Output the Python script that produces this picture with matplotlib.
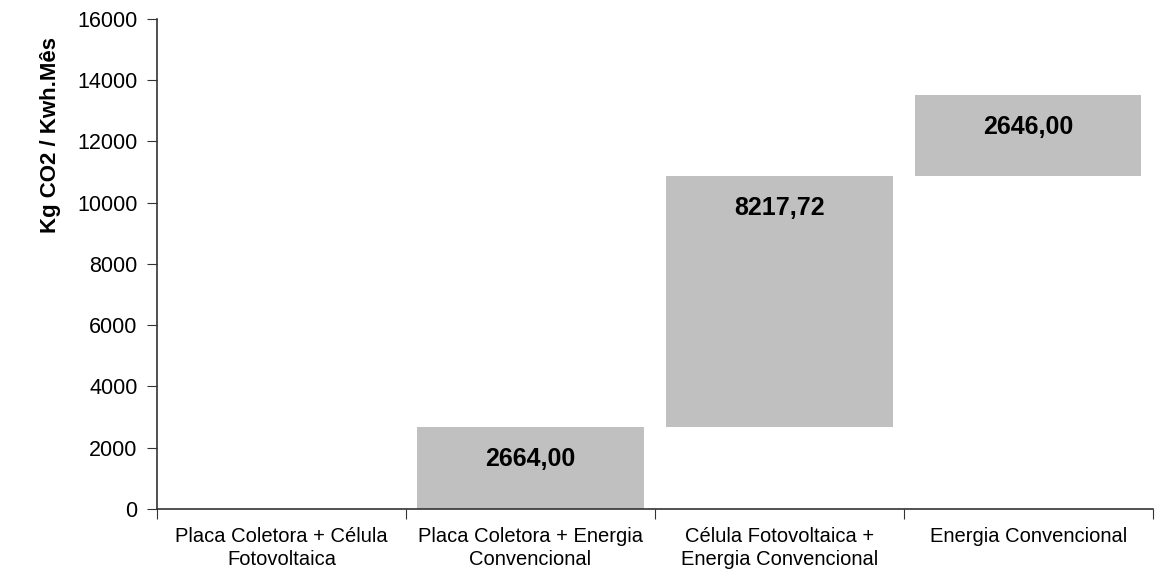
import matplotlib
matplotlib.use("Agg")
import matplotlib.pyplot as plt
import numpy as np

plt.rcParams['font.family'] = ['Liberation Sans', 'DejaVu Sans']

# Waterfall data (Kg CO2 / Kwh.Mes)
categories = ['Placa Coletora + Célula\nFotovoltaica',
              'Placa Coletora + Energia\nConvencional',
              'Célula Fotovoltaica +\nEnergia Convencional',
              'Energia Convencional']
increments = [0.0, 2664.00, 8217.72, 2646.00]
y_ticks = [0, 2000, 4000, 6000, 8000, 10000, 12000, 14000, 16000]

vals = np.array(increments)
bottoms = np.concatenate(([0.0], np.cumsum(vals)[:-1]))
x = np.arange(len(categories))

fig = plt.figure(figsize=(11.55, 5.75), dpi=100)
ax = fig.add_axes([0.136, 0.115, 0.862, 0.852])

ax.bar(x, vals, bottom=bottoms, width=0.91, color='#c0c0c0', edgecolor='none')

for xi, v, b in zip(x, vals, bottoms):
    if v > 0:
        ax.annotate('{:.2f}'.format(v).replace('.', ','), xy=(xi, b + v),
                    xytext=(0, -23), textcoords='offset points',
                    ha='center', va='center', fontsize=18, fontweight='bold')

ax.set_xlim(-0.5, len(categories) - 0.5)
ax.set_ylim(0, 16000)
ax.set_yticks(y_ticks)
ax.set_yticklabels([str(t) for t in y_ticks], fontsize=15.5)

# category boundaries as ticks, labels centered between
ax.set_xticks(np.arange(len(categories) + 1) - 0.5)
ax.set_xticklabels([])
ax.set_xticks(x, minor=True)
ax.set_xticklabels(categories, minor=True, fontsize=14.5, linespacing=1.25)
ax.tick_params(axis='x', which='minor', length=0, pad=13)
ax.tick_params(axis='x', which='major', length=7, direction='out', color='#333333')
ax.tick_params(axis='y', length=7, direction='out', color='#333333', pad=7)

for s in ['top', 'right']:
    ax.spines[s].set_visible(False)
for s in ['left', 'bottom']:
    ax.spines[s].set_color('#333333')
    ax.spines[s].set_linewidth(1.2)

ax.set_ylabel('Kg CO2 / Kwh.Mês', fontsize=16, fontweight='bold')
ax.yaxis.set_label_coords(-0.097, 0.763)

fig.savefig('out.png', dpi=100)
